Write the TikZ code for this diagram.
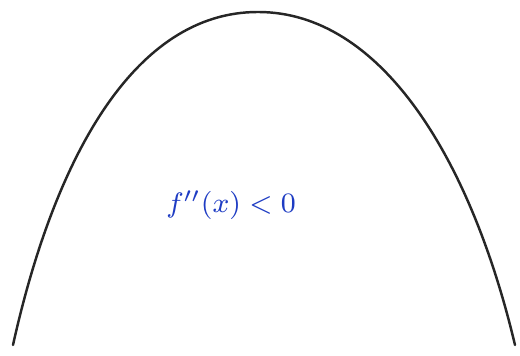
\documentclass[tikz,border=0pt]{standalone}
\usetikzlibrary{positioning}
\definecolor{ink}{RGB}{30,60,195}
\tikzset{
  arch/.style={draw=black!85,line width=0.7pt,line cap=round},
  note/.style={text=ink,font=\footnotesize}
}
\begin{document}
\begin{tikzpicture}
  \useasboundingbox (0,0) rectangle (5.2,3.56);
  % concave arch
  \coordinate (lft) at (0.13,0.11);
  \coordinate (top) at (2.58,3.44);
  \coordinate (rgt) at (5.15,0.11);
  \draw[arch] (lft) .. controls (0.55,2.0) and (1.35,3.44) .. (top)
    .. controls (3.8,3.44) and (4.7,2.0) .. (rgt);
  \node[note] (cond) at (2.31,1.51) {$f''(x) < 0$};
\end{tikzpicture}
\end{document}
